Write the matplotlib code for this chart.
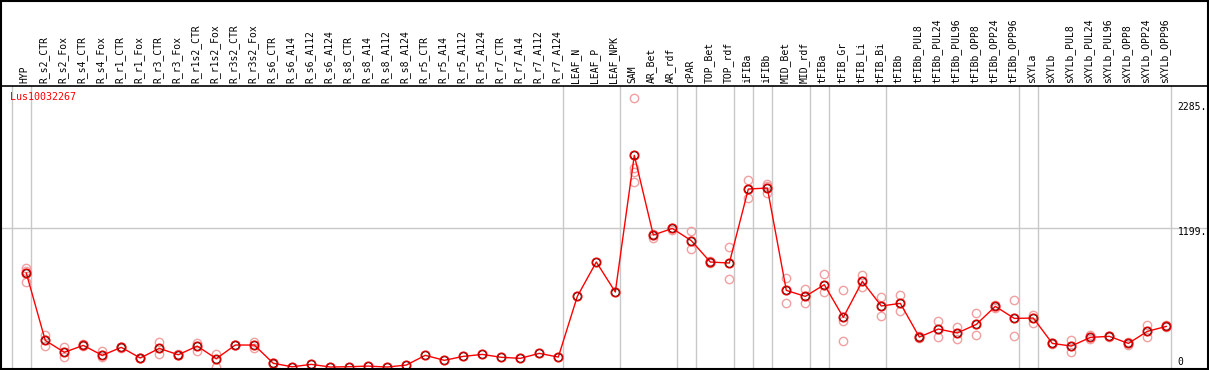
import matplotlib
matplotlib.use("Agg")
import matplotlib.pyplot as plt
from matplotlib.lines import Line2D
from matplotlib.transforms import blended_transform_factory

categories = ["HYP", "R_s2_CTR", "R_s2_Fox", "R_s4_CTR", "R_s4_Fox", "R_r1_CTR", "R_r1_Fox",
              "R_r3_CTR", "R_r3_Fox", "R_r1s2_CTR", "R_r1s2_Fox", "R_r3s2_CTR", "R_r3s2_Fox",
              "R_s6_CTR", "R_s6_A14", "R_s6_A112", "R_s6_A124", "R_s8_CTR", "R_s8_A14",
              "R_s8_A112", "R_s8_A124", "R_r5_CTR", "R_r5_A14", "R_r5_A112", "R_r5_A124",
              "R_r7_CTR", "R_r7_A14", "R_r7_A112", "R_r7_A124", "LEAF_N", "LEAF_P", "LEAF_NPK",
              "SAM", "AR_Bet", "AR_rdf", "cPAR", "TOP_Bet", "TOP_rdf", "iFIBa", "iFIBb",
              "MID_Bet", "MID_rdf", "tFIBa", "tFIB_Gr", "tFIB_Li", "tFIB_Bi", "tFIBb",
              "tFIBb_PUL8", "tFIBb_PUL24", "tFIBb_PUL96", "tFIBb_OPP8", "tFIBb_OPP24",
              "tFIBb_OPP96", "sXYLa", "sXYLb", "sXYLb_PUL8", "sXYLb_PUL24", "sXYLb_PUL96",
              "sXYLb_OPP8", "sXYLb_OPP24", "sXYLb_OPP96"]

means = [812, 230, 127, 187, 101, 170, 78, 161, 106, 181, 72, 190, 190,
         32, 2, 23, 0, 3, 8, 0, 17, 101, 58, 92, 109, 84, 75, 118, 86,
         610, 907, 648, 1828, 1140, 1197, 1091, 907, 898, 1537, 1546,
         662, 610, 711, 429, 740, 527, 550, 259, 328, 294, 368, 524, 420,
         423, 204, 181, 256, 265, 204, 308, 351]

replicates = [[852, 832, 731], [276, 184], [173, 84], [195, 180], [135, 84], [175, 165], [80, 76],
              [216, 112], [112, 100], [210, 141], [115, 0], [193, 187], [219, 161],
              [34, 30], [], [], [], [], [], [], [], [], [], [], [], [], [], [], [],
              [], [], [], [2320, 1718, 1684, 1595], [1150, 1111], [1205, 1180], [1171, 1016],
              [912, 900], [1034, 757], [1612, 1457], [1583, 1500, 1560],
              [766, 550], [671, 550], [800, 650], [662, 394, 222], [794, 688], [607, 438],
              [619, 481], [270, 250], [397, 256], [345, 239], [463, 273], [540, 510],
              [576, 265], [452, 380], [210, 200], [230, 127], [275, 240], [270, 260],
              [215, 190], [360, 262], [360, 345]]

group_ends = [-1, 0, 28, 31, 34, 35, 37, 38, 39, 41, 42, 45, 52, 53, 60]
ytick_vals = [0, 1199, 2285]
ytick_labels = ["0", "1199.", "2285."]
gene = "Lus10032267"

W, H = 1209, 370
fig = plt.figure(figsize=(W / 100, H / 100), dpi=100)
ax = fig.add_axes([1 / W, 1 / H, 1206 / W, (369 - 86) / H])
ax.set_xlim(-1.33, 62.14)
ax.set_ylim(-17, 2427)
for s in ax.spines.values():
    s.set_visible(False)
ax.set_xticks([])
ax.set_yticks([])

for g in group_ends:
    ax.axvline(g + 0.23, color="#c8c8c8", lw=1, zorder=1)
ax.axhline(1199, color="#c8c8c8", lw=1, zorder=1)

xs = list(range(len(categories)))
for i, reps in enumerate(replicates):
    if reps:
        ax.plot([i] * len(reps), reps, ls="none", marker="o", ms=6, mfc="none",
                mec="#f0a0a0", mew=1.0, zorder=2)
ax.plot(xs, means, color="red", lw=1, zorder=3)
ax.plot(xs, means, ls="none", marker="o", ms=6.3, mfc="none", mec="red", mew=1.0, zorder=4)
ax.plot(xs, means, ls="none", marker="o", ms=5.2, mfc="none", mec="#400000", mew=0.5, zorder=5)

ax.text(9 / 1206, 1 - 11 / 283, gene, transform=ax.transAxes, color="red",
        fontsize=7.2, family="DejaVu Sans Mono", va="center", ha="left")

tx = blended_transform_factory(ax.transData, fig.transFigure)
for i, lab in enumerate(categories):
    ax.text(i - 0.08, (H - 83) / H, lab, transform=tx, rotation=90, ha="center", va="bottom",
            fontsize=7, family="DejaVu Sans Mono", color="black", clip_on=False)

offsets = {0: 5, 1199: -4, 2285: -5}
for v, lab in zip(ytick_vals, ytick_labels):
    ax.annotate(lab, xy=(60.6, v), xytext=(0, offsets[v] * 0.72), textcoords="offset points",
                ha="left", va="center", fontsize=7, family="DejaVu Sans Mono")

# frame lines
fig.add_artist(Line2D([0.5 / W, 0.5 / W], [0, 1], color="black", lw=1.5, transform=fig.transFigure))
fig.add_artist(Line2D([1207.5 / W, 1207.5 / W], [0, 1], color="black", lw=1.5, transform=fig.transFigure))
fig.add_artist(Line2D([0, 1], [1 - 0.5 / H, 1 - 0.5 / H], color="black", lw=1.5, transform=fig.transFigure))
fig.add_artist(Line2D([0, 1], [1 - 85.5 / H, 1 - 85.5 / H], color="black", lw=1.2, transform=fig.transFigure))
fig.add_artist(Line2D([0, 1], [0.8 / H, 0.8 / H], color="black", lw=1.5, transform=fig.transFigure))

fig.savefig("out.png", dpi=100)
